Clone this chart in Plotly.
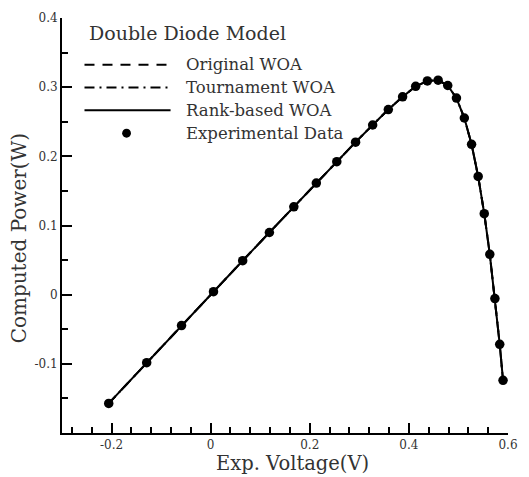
import plotly.graph_objects as go

# Measured operating points of the cell (voltage in V, power in W)
voltage = [-0.2057, -0.1291, -0.0588, 0.0057, 0.0646, 0.1185, 0.1678, 0.2132,
           0.2545, 0.2924, 0.3269, 0.3585, 0.3873, 0.4137, 0.4373, 0.4590,
           0.4784, 0.4960, 0.5119, 0.5265, 0.5398, 0.5521, 0.5633, 0.5736,
           0.5833, 0.5900]
power_exp = [-0.1572, -0.0984, -0.0447, 0.0043, 0.0491, 0.0899, 0.1270, 0.1614,
             0.1923, 0.2205, 0.2453, 0.2676, 0.2860, 0.3012, 0.3090, 0.3101,
             0.3024, 0.2842, 0.2554, 0.2174, 0.1709, 0.1171, 0.0583, -0.0057,
             -0.0718, -0.1239]

# Model outputs (the three optimisers give practically identical curves)
power_original = [-0.1572, -0.0984, -0.0447, 0.0043, 0.0491, 0.0899, 0.1270, 0.1614,
                  0.1923, 0.2205, 0.2453, 0.2676, 0.2860, 0.3012, 0.3090, 0.3101,
                  0.3024, 0.2842, 0.2554, 0.2174, 0.1709, 0.1171, 0.0583, -0.0057,
                  -0.0718, -0.1239]
power_tournament = [-0.1572, -0.0984, -0.0447, 0.0043, 0.0491, 0.0899, 0.1270, 0.1614,
                    0.1923, 0.2205, 0.2453, 0.2676, 0.2860, 0.3012, 0.3090, 0.3101,
                    0.3024, 0.2842, 0.2554, 0.2174, 0.1709, 0.1171, 0.0583, -0.0057,
                    -0.0718, -0.1239]
power_rank = [-0.1572, -0.0984, -0.0447, 0.0043, 0.0491, 0.0899, 0.1270, 0.1614,
              0.1923, 0.2205, 0.2453, 0.2676, 0.2860, 0.3012, 0.3090, 0.3101,
              0.3024, 0.2842, 0.2554, 0.2174, 0.1709, 0.1171, 0.0583, -0.0057,
              -0.0718, -0.1239]

x_ticks = [-0.2, 0, 0.2, 0.4, 0.6]
x_tick_text = ["-0.2", "0", "0.2", "0.4", "0.6"]
y_ticks = [-0.1, 0, 0.1, 0.2, 0.3, 0.4]
y_tick_text = ["-0.1", "0", "0.1", "0.2", "0.3", "0.4"]

legend_title = "Double Diode Model"
legend_names = ["Original WOA", "Tournament WOA", "Rank-based WOA", "Experimental Data"]

FONT = "DejaVu Serif"
TEXT_COLOR = "#333"
W, H = 529, 477
ML, MR, MT, MB = 62, 11, 15, 44

fig = go.Figure()
fig.add_trace(go.Scatter(x=voltage, y=power_original, mode="lines",
                         line=dict(color="black", width=2, dash="10px,8px")))
fig.add_trace(go.Scatter(x=voltage, y=power_tournament, mode="lines",
                         line=dict(color="black", width=2, dash="10px,5px,2px,5px")))
fig.add_trace(go.Scatter(x=voltage, y=power_rank, mode="lines",
                         line=dict(color="black", width=2)))
fig.add_trace(go.Scatter(x=voltage, y=power_exp, mode="markers",
                         marker=dict(color="black", size=9.5)))

# Hand-built legend block in the upper-left corner
def px_x(p):
    return (p - ML) / (W - ML - MR)

def px_y(p):
    return 1 - (p - MT) / (H - MT - MB)

shapes = []
annotations = []
annotations.append(dict(x=px_x(88), y=px_y(30), xref="paper", yref="paper",
                        text=legend_title, showarrow=False, xanchor="left",
                        yanchor="middle", font=dict(family=FONT, size=19, color=TEXT_COLOR)))
rows = [62, 85, 108, 131]
dashes = ["10px,8px", "10px,5px,2px,5px", "solid"]
for i, (name, yy) in enumerate(zip(legend_names, rows)):
    if i < 3:
        shapes.append(dict(type="line", xref="paper", yref="paper",
                           x0=px_x(85), x1=px_x(173), y0=px_y(yy), y1=px_y(yy),
                           line=dict(color="black", width=2, dash=dashes[i])))
    else:
        shapes.append(dict(type="circle", xref="paper", yref="paper",
                           x0=px_x(123.5), x1=px_x(132.5), y0=px_y(yy - 4.5), y1=px_y(yy + 4.5),
                           fillcolor="black", line=dict(color="black", width=0)))
    annotations.append(dict(x=px_x(187), y=px_y(yy), xref="paper", yref="paper",
                            text=name, showarrow=False, xanchor="left", yanchor="middle",
                            font=dict(family=FONT, size=16.5, color=TEXT_COLOR)))

# Axis titles
annotations.append(dict(x=px_x(298), y=px_y(464), xref="paper", yref="paper",
                        text="Exp. Voltage(V)", showarrow=False, xanchor="center",
                        yanchor="middle", font=dict(family=FONT, size=19.5, color=TEXT_COLOR)))
annotations.append(dict(x=px_x(18), y=px_y(237), xref="paper", yref="paper",
                        text="Computed Power(W)", showarrow=False, xanchor="center",
                        yanchor="middle", textangle=-90,
                        font=dict(family=FONT, size=20, color=TEXT_COLOR)))

axis_common = dict(showline=True, linecolor="black", linewidth=2, mirror=False,
                   showgrid=False, zeroline=False, ticks="inside", ticklen=10,
                   tickwidth=2, tickcolor="black",
                   tickfont=dict(family=FONT, size=12, color=TEXT_COLOR))

fig.update_layout(
    width=W, height=H,
    margin=dict(l=ML, r=MR, t=MT, b=MB),
    paper_bgcolor="white", plot_bgcolor="white",
    showlegend=False,
    shapes=shapes, annotations=annotations,
    xaxis=dict(range=[-0.3, 0.6], tickvals=x_ticks, ticktext=x_tick_text,
               minor=dict(tick0=0, dtick=0.04, ticks="inside", ticklen=6,
                          tickwidth=1.5, tickcolor="black"),
               **axis_common),
    yaxis=dict(range=[-0.2, 0.4], tickvals=y_ticks, ticktext=y_tick_text,
               minor=dict(tick0=0, dtick=0.05, ticks="inside", ticklen=6,
                          tickwidth=1.5, tickcolor="black"),
               **axis_common),
)

fig.write_html("out.html")
